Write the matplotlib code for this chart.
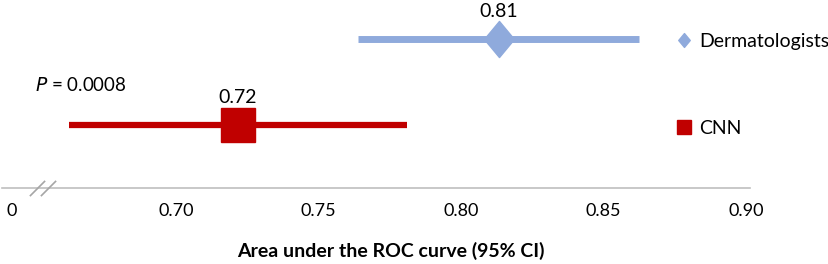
import numpy as np
import matplotlib
matplotlib.use('Agg')
import matplotlib.pyplot as plt
from matplotlib.lines import Line2D
from matplotlib.path import Path

plt.rcParams['font.family'] = ['Lato', 'DejaVu Sans']

# data
groups = ['CNN', 'Dermatologists']
auc = [0.7216, 0.8133]
ci_low = [0.6625, 0.7639]
ci_high = [0.781, 0.8625]
auc_labels = ['0.72', '0.81']
colors = ['#C00000', '#8FAADC']
p_text = '$\\it{P}$ = 0.0008'
tick_vals = [0.6425, 0.70, 0.75, 0.80, 0.85, 0.90]
tick_labels = ['0', '0.70', '0.75', '0.80', '0.85', '0.90']

W, H = 829, 264
fig = plt.figure(figsize=(W / 100, H / 100), dpi=100)
ax = fig.add_axes([0, 0, 1, 1])
ax.set_xlim(0.63825, 0.92912)
ax.set_ylim(-0.616, 2.453)

diamond = Path([(0, 1), (0.83, 0), (0, -1), (-0.83, 0), (0, 1)],
               [Path.MOVETO, Path.LINETO, Path.LINETO, Path.LINETO, Path.CLOSEPOLY])
markers = ['s', diamond]
msizes = [24, 26]
lws = [4.5, 5]
ys = [1, 2]

for i in range(2):
    ax.hlines(ys[i], ci_low[i], ci_high[i], color=colors[i], lw=lws[i],
              capstyle='butt', zorder=2)
    ax.plot(auc[i], ys[i], marker=markers[i], ms=msizes[i], color=colors[i],
            mec=colors[i], ls='none', zorder=3)
    ax.text(auc[i], ys[i] + 0.32, auc_labels[i], ha='center', va='center',
            fontsize=14, color='black')

ax.text(0.6505, 1.465, p_text, ha='left', va='center', fontsize=13.5)

# axis
for s in ['top', 'left', 'right']:
    ax.spines[s].set_visible(False)
ax.spines['bottom'].set_position(('data', 0.267))
ax.spines['bottom'].set_bounds(0.6389, 0.9014)
ax.spines['bottom'].set_color('#BFBFBF')
ax.spines['bottom'].set_linewidth(1.2)
ax.set_yticks([])
ax.set_xticks(tick_vals)
ax.set_xticklabels(tick_labels, fontsize=13)
ax.tick_params(axis='x', length=0, pad=11)

# axis break marks
slash = [(-1, -1), (1, 1)]
ax.plot([0.6512, 0.6551], [0.267, 0.267], marker=slash, ms=11, mew=1.2,
        color='#A6A6A6', ls='none', zorder=4)

fig.text(391 / W, 1 - 251 / H, 'Area under the ROC curve (95% CI)',
         ha='center', va='center', fontsize=14, fontweight='bold')

handles = [Line2D([], [], marker=diamond, color=colors[1], ls='none', ms=10),
           Line2D([], [], marker='s', color=colors[0], ls='none', ms=10)]
ax.legend(handles, ['Dermatologists', 'CNN'], loc='upper left',
          bbox_to_anchor=(676 / W, 1 - 33 / H), frameon=False, fontsize=14,
          handlelength=0.8, handletextpad=0.4, labelspacing=3.6,
          borderaxespad=0, borderpad=0)

fig.savefig('out.png', dpi=100)
